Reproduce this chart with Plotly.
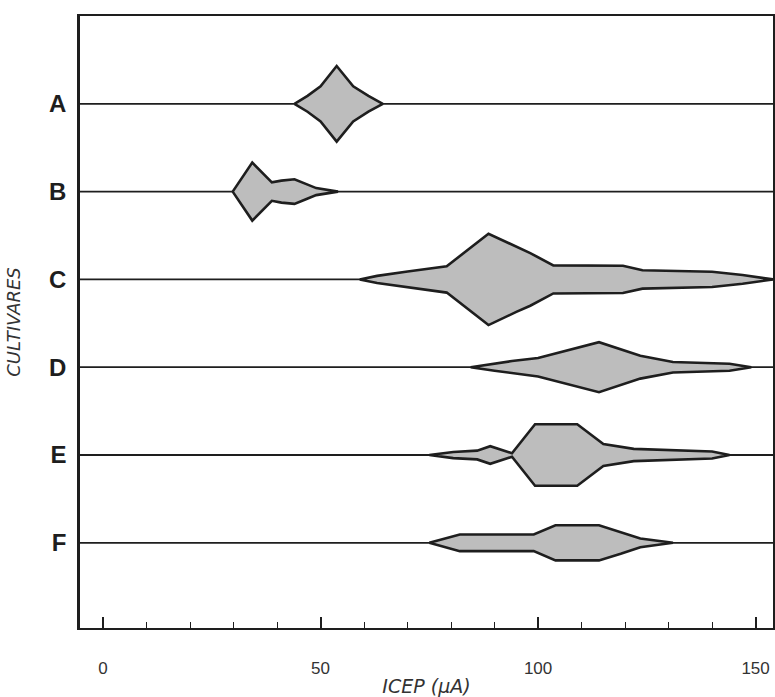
import plotly.graph_objects as go

# ---- data -------------------------------------------------------------
cultivars = ["A", "B", "C", "D", "E", "F"]
positions = [6, 5, 4, 3, 2, 1]

# frequency-polygon outlines: ICEP (µA) and half-width (relative frequency)
A_x = [44.0, 47.0, 50.0, 53.7, 57.5, 61.0, 64.3]
A_h = [0.0, 0.09, 0.20, 0.43, 0.20, 0.09, 0.0]

B_x = [29.8, 34.3, 38.8, 41.0, 44.0, 46.5, 49.0, 54.0]
B_h = [0.0, 0.33, 0.105, 0.125, 0.14, 0.09, 0.04, 0.0]

C_x = [59.0, 63.0, 70.0, 79.0, 88.6, 95.0, 98.2, 103.5, 119.5, 124.0, 140.0, 147.0, 154.0]
C_h = [0.0, 0.04, 0.09, 0.15, 0.52, 0.37, 0.30, 0.16, 0.155, 0.105, 0.087, 0.05, 0.0]

D_x = [84.5, 90.0, 94.0, 100.0, 114.0, 123.5, 131.0, 144.0, 149.0]
D_h = [0.0, 0.04, 0.07, 0.105, 0.285, 0.13, 0.06, 0.04, 0.0]

E_x = [75.0, 80.5, 86.0, 89.0, 94.0, 99.3, 109.0, 115.0, 122.0, 140.0, 144.0]
E_h = [0.0, 0.035, 0.05, 0.10, 0.02, 0.35, 0.35, 0.125, 0.07, 0.04, 0.0]

F_x = [75.0, 82.0, 99.0, 104.0, 114.0, 119.0, 123.5, 131.0]
F_h = [0.0, 0.095, 0.095, 0.20, 0.20, 0.125, 0.05, 0.0]

series_x = [A_x, B_x, C_x, D_x, E_x, F_x]
series_h = [A_h, B_h, C_h, D_h, E_h, F_h]

x_range = [-5.3, 154.0]
y_range = [0.03, 7.0]
x_major_ticks = [0, 50, 100, 150]

# ---- figure -----------------------------------------------------------
fig = go.Figure()

INK = "#1e1e1e"
FILL = "#bdbdbd"

# baselines
for pos in positions:
    fig.add_trace(go.Scatter(
        x=x_range, y=[pos, pos], mode="lines",
        line=dict(color=INK, width=1.8), hoverinfo="skip", showlegend=False,
    ))

# mirrored frequency polygons
for name, pos, xs, hs in zip(cultivars, positions, series_x, series_h):
    px = list(xs) + list(reversed(xs))
    py = [pos + h for h in hs] + [pos - h for h in reversed(hs)]
    fig.add_trace(go.Scatter(
        x=px, y=py, mode="lines", fill="toself", fillcolor=FILL,
        line=dict(color=INK, width=2.6), name=name, showlegend=False,
    ))

fig.update_layout(
    width=775, height=697,
    margin=dict(l=80, r=2, t=16, b=69),
    paper_bgcolor="white", plot_bgcolor="white",
    font=dict(family="Liberation Sans", color=INK),
)

fig.update_xaxes(
    range=x_range, showgrid=False, zeroline=False, automargin=False,
    showline=True, mirror=True, linecolor=INK, linewidth=2,
    tickmode="array", tickvals=x_major_ticks,
    ticktext=[str(v) for v in x_major_ticks],
    ticks="inside", ticklen=11, tickwidth=1.5, tickcolor=INK,
    ticklabelstandoff=24,
    tickfont=dict(family="Liberation Sans", size=17, color="#333"),
    minor=dict(dtick=10, tick0=0, ticks="inside", ticklen=6,
               tickwidth=1.3, tickcolor=INK),
    title=dict(text="ICEP (μA)", standoff=6,
               font=dict(family="DejaVu Sans", size=19, color="#333",
                         style="italic")),
)

fig.update_yaxes(
    range=y_range, showgrid=False, zeroline=False, automargin=False,
    showline=True, mirror=True, linecolor=INK, linewidth=2.5,
    tickmode="array", tickvals=positions, ticktext=cultivars,
    ticks="", ticklabelstandoff=6,
    tickfont=dict(family="Liberation Sans", size=24, color=INK,
                  weight="bold"),
    title=dict(text="CULTIVARES", standoff=24,
               font=dict(family="DejaVu Sans", size=18, color="#333",
                         style="italic")),
)

fig.write_html("out.html")
